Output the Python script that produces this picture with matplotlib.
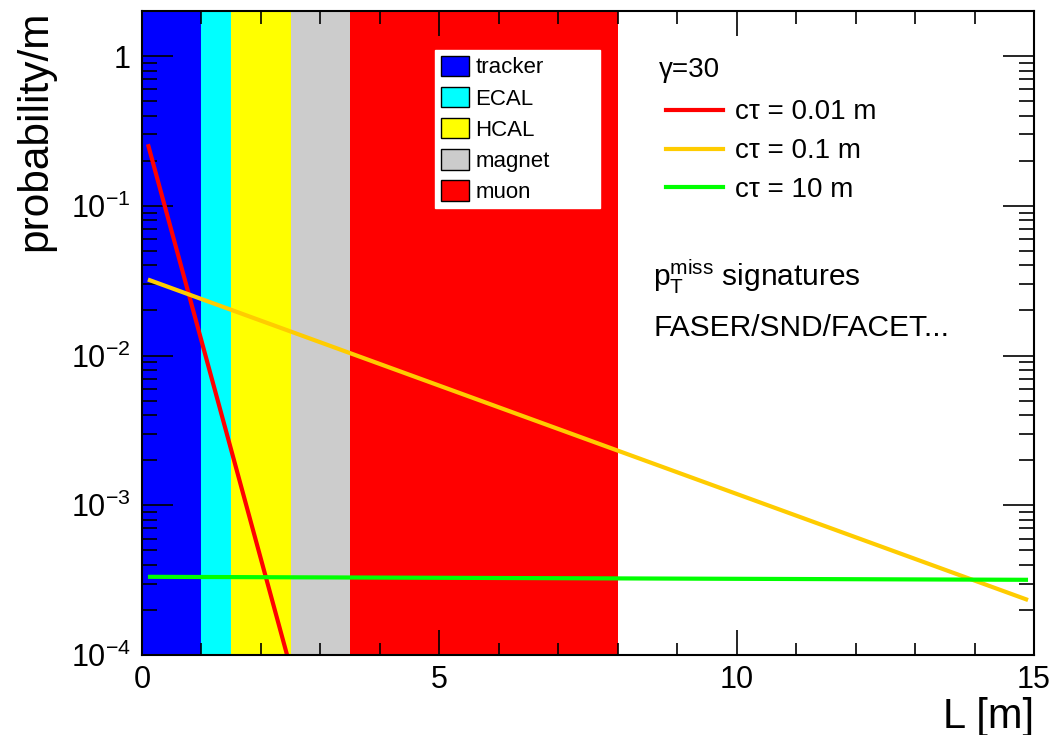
import numpy as np
import matplotlib
matplotlib.use('Agg')
import matplotlib.pyplot as plt
from matplotlib.patches import Patch
from matplotlib.lines import Line2D

plt.rcParams['font.family'] = ['Liberation Sans', 'DejaVu Sans']
plt.rcParams['mathtext.fontset'] = 'custom'
plt.rcParams['mathtext.rm'] = 'Liberation Sans'
plt.rcParams['mathtext.it'] = 'Liberation Sans:italic'

# detector regions (start, end) in m
regions = ['tracker', 'ECAL', 'HCAL', 'magnet', 'muon']
region_start = [0.0, 1.0, 1.5, 2.5, 3.5]
region_end = [1.0, 1.5, 2.5, 3.5, 8.0]
region_colors = ['#0000ff', '#00ffff', '#ffff00', '#cccccc', '#ff0000']

# decay probability curves
labels = ['cτ = 0.01 m', 'cτ = 0.1 m', 'cτ = 10 m']
L_red = [0.1, 2.44]
p_red = [0.258, 1.0e-4]
L_orange = [0.1, 14.9]
p_orange = [0.0322, 2.33e-4]
L_green = [0.1, 14.9]
p_green = [3.33e-4, 3.18e-4]
line_colors = ['#ff0000', '#ffcc00', '#00ff00']

fig = plt.figure(figsize=(10.54, 7.35), dpi=100)
ax = fig.add_axes([0.1347, 0.1088, 0.8463, 0.8762])

for s, e, c in zip(region_start, region_end, region_colors):
    ax.axvspan(s, e, color=c, lw=0, zorder=0)

for xs, ys, c in zip([L_red, L_orange, L_green], [p_red, p_orange, p_green], line_colors):
    ax.plot(xs, ys, color=c, lw=3, solid_capstyle='butt', zorder=2)

ax.set_yscale('log')
ax.set_xlim(0, 15)
ax.set_ylim(1e-4, 2)

ax.set_xticks([0, 5, 10, 15])
ax.set_xticklabels(['0', '5', '10', '15'])
ax.set_xticks(np.arange(0, 16, 1), minor=True)
ax.set_yticks([1e-4, 1e-3, 1e-2, 1e-1, 1])
ax.set_yticklabels([r'$\mathrm{10^{-4}}$', r'$\mathrm{10^{-3}}$', r'$\mathrm{10^{-2}}$',
                    r'$\mathrm{10^{-1}}$', '1'])
ax.yaxis.set_minor_locator(matplotlib.ticker.LogLocator(base=10, subs=np.arange(2, 10)))
ax.yaxis.set_minor_formatter(matplotlib.ticker.NullFormatter())

ax.tick_params(which='both', direction='in', top=True, right=True, labelsize=22, width=1.2, color='black')
ax.tick_params(axis='x', which='major', length=18, pad=7)
ax.tick_params(axis='x', which='minor', length=9)
ax.tick_params(axis='y', which='major', length=22, pad=8)
ax.tick_params(axis='y', which='minor', length=11)
for sp in ax.spines.values():
    sp.set_linewidth(1.5)
    sp.set_zorder(5)

ax.set_xlabel('L [m]', fontsize=30, loc='right')
ax.xaxis.set_label_coords(1.0, -0.065)
ax.set_ylabel('probability/m', fontsize=30.5, loc='top', labelpad=11)

# region legend
handles = [Patch(facecolor=c, edgecolor='black', lw=1) for c in region_colors]
leg1 = ax.legend(handles, regions, loc='upper left', mode='expand',
                 bbox_to_anchor=(0.3285, 0.6957, 0.185, 0.2437),
                 fontsize=16, frameon=True, fancybox=False, framealpha=1,
                 edgecolor='white', handlelength=1.3, handleheight=1.05,
                 handletextpad=0.27, labelspacing=0.37, borderpad=0.25, borderaxespad=0)
ax.add_artist(leg1)

# lifetime legend
ax.text(0.58, (655 - 70) / 644, 'γ=30', transform=ax.transAxes, fontsize=20,
        va='center', ha='left')
lh = [Line2D([0], [0], color=c, lw=3) for c in line_colors]
leg2 = ax.legend(lh, labels, loc='upper left', bbox_to_anchor=(0.5875, 0.8627),
                 fontsize=20, frameon=False, handlelength=2.05, handletextpad=0.43,
                 labelspacing=0.46, borderpad=0, borderaxespad=0)

ax.text(0.573, (655 - 277) / 644, r'$\mathrm{p}_\mathrm{T}^\mathrm{miss}$ signatures',
        transform=ax.transAxes, fontsize=21.5, va='center', ha='left')
ax.text(0.573, (655 - 328) / 644, 'FASER/SND/FACET...', transform=ax.transAxes,
        fontsize=21.5, va='center', ha='left')

fig.savefig('out.png', dpi=100)
